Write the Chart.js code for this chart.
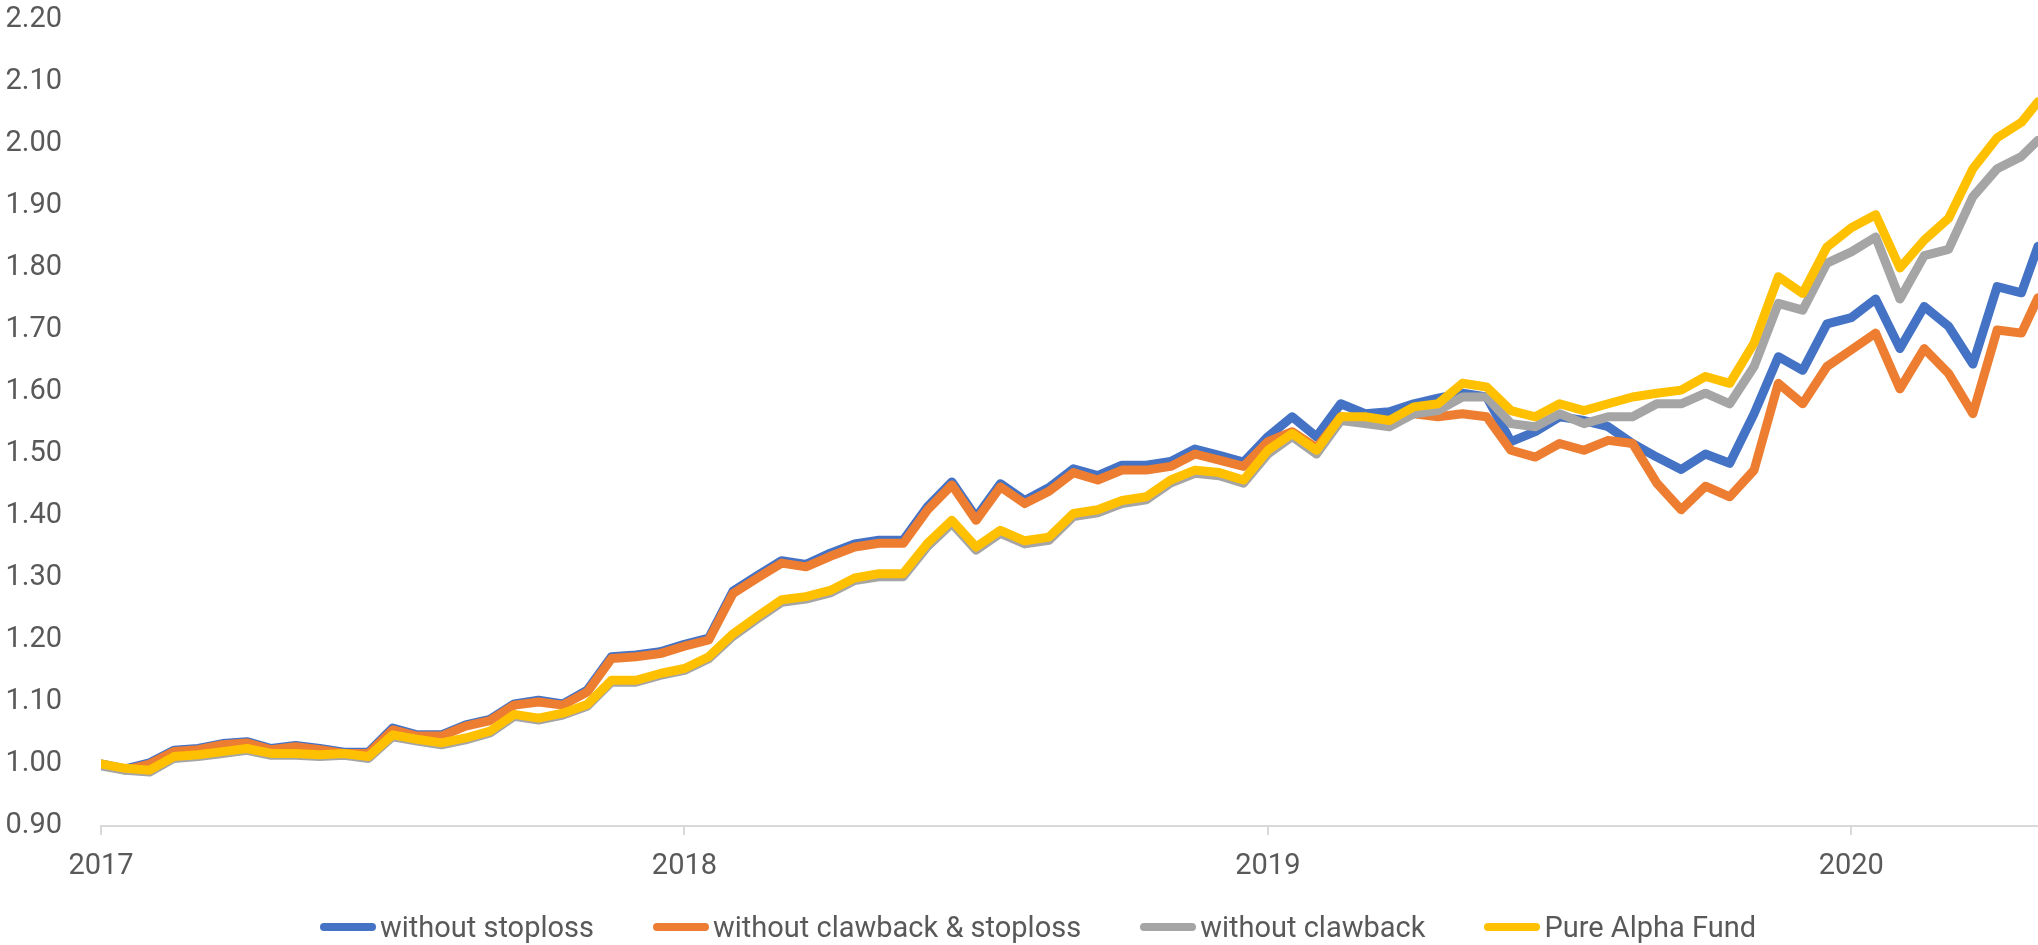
<!DOCTYPE html>
<html lang="en">
<head>
  <meta charset="UTF-8"/>
  <title>Pure Alpha Fund - backtest</title>
  <script src="https://cdn.jsdelivr.net/npm/chart.js"></script>
  <style>
    html, body { margin: 0; padding: 0; background: #fff; }
    .wrap { position: relative; width: 2038px; height: 945px; }
    .legend {
      position: absolute; left: 0; right: 0; top: 908px; height: 38px;
      display: flex; justify-content: center; align-items: center; gap: 59px;
      padding-left: 38px; box-sizing: border-box;
      font-family: Roboto, sans-serif; font-size: 29px; color: #595959;
    }
    .legend span { display: flex; align-items: center; }
    .legend i { display: inline-block; width: 56px; height: 8px; border-radius: 4px; margin-right: 4px; }
  </style>
</head>
<body>
  <div class="wrap">
    <canvas id="chart" width="2038" height="945"></canvas>
    <div class="legend">
      <span><i style="background:#4472C4"></i>without stoploss</span>
      <span><i style="background:#ED7D31"></i>without clawback &amp; stoploss</span>
      <span><i style="background:#A5A5A5"></i>without clawback</span>
      <span><i style="background:#FFC000"></i>Pure Alpha Fund</span>
    </div>
  </div>
  <script>
    // half-monthly readings, Jan 2017 .. end of Apr 2020
    const noStoploss = [1.00, 0.992, 1.002, 1.022, 1.025, 1.033, 1.036, 1.025, 1.03, 1.025,
      1.019, 1.019, 1.058, 1.047, 1.047, 1.063, 1.072, 1.097, 1.103, 1.097,
      1.119, 1.173, 1.176, 1.181, 1.193, 1.203, 1.279, 1.304, 1.328, 1.322,
      1.34, 1.355, 1.361, 1.361, 1.415, 1.455, 1.398, 1.452, 1.425, 1.446,
      1.476, 1.465, 1.482, 1.482, 1.488, 1.508, 1.498, 1.487, 1.528, 1.56,
      1.528, 1.581, 1.565, 1.568, 1.581, 1.59, 1.598, 1.592, 1.52, 1.536,
      1.56, 1.554, 1.544, 1.517, 1.495, 1.475, 1.50, 1.485, 1.565, 1.657,
      1.635, 1.71, 1.72, 1.75, 1.67, 1.738, 1.706, 1.645, 1.77, 1.76,
      1.835];
    const noClawNoStop = [1.00, 0.99, 1.00, 1.02, 1.023, 1.031, 1.034, 1.023, 1.028, 1.023,
      1.017, 1.017, 1.055, 1.045, 1.045, 1.061, 1.07, 1.095, 1.10, 1.095,
      1.116, 1.17, 1.173, 1.178, 1.19, 1.20, 1.275, 1.30, 1.324, 1.318,
      1.335, 1.35, 1.356, 1.356, 1.41, 1.45, 1.393, 1.447, 1.42, 1.44,
      1.47, 1.458, 1.474, 1.474, 1.48, 1.50, 1.49, 1.48, 1.52, 1.536,
      1.51, 1.56, 1.554, 1.549, 1.565, 1.56, 1.565, 1.56, 1.506, 1.495,
      1.517, 1.506, 1.522, 1.517, 1.453, 1.41, 1.448, 1.431, 1.474, 1.614,
      1.581, 1.641, 1.668, 1.695, 1.605, 1.67, 1.63, 1.565, 1.70, 1.695,
      1.752];
    const noClawback = [0.997, 0.99, 0.987, 1.009, 1.012, 1.017, 1.022, 1.014, 1.014, 1.012,
      1.014, 1.009, 1.044, 1.037, 1.031, 1.039, 1.05, 1.077, 1.071, 1.079,
      1.093, 1.132, 1.132, 1.143, 1.151, 1.17, 1.206, 1.234, 1.261, 1.266,
      1.276, 1.296, 1.302, 1.302, 1.351, 1.388, 1.345, 1.372, 1.355, 1.361,
      1.399, 1.405, 1.42, 1.426, 1.453, 1.469, 1.465, 1.453, 1.50, 1.528,
      1.50, 1.554, 1.549, 1.544, 1.565, 1.57, 1.592, 1.592, 1.549, 1.544,
      1.565, 1.549, 1.56, 1.56, 1.581, 1.581, 1.598, 1.581, 1.641, 1.743,
      1.732, 1.808, 1.826, 1.85, 1.75, 1.82, 1.83, 1.915, 1.96, 1.98,
      2.006];
    const pureAlpha = [1.00, 0.993, 0.99, 1.012, 1.015, 1.02, 1.025, 1.017, 1.017, 1.015,
      1.017, 1.012, 1.047, 1.04, 1.034, 1.042, 1.053, 1.08, 1.074, 1.082,
      1.096, 1.135, 1.135, 1.146, 1.154, 1.173, 1.21, 1.238, 1.265, 1.27,
      1.28, 1.30, 1.307, 1.307, 1.356, 1.393, 1.35, 1.377, 1.36, 1.366,
      1.404, 1.41, 1.425, 1.431, 1.458, 1.474, 1.47, 1.458, 1.506, 1.533,
      1.506, 1.56, 1.56, 1.554, 1.576, 1.581, 1.614, 1.608, 1.57, 1.56,
      1.581, 1.57, 1.581, 1.592, 1.598, 1.603, 1.625, 1.614, 1.679, 1.786,
      1.759, 1.834, 1.865, 1.886, 1.80, 1.845, 1.88, 1.96, 2.01, 2.035,
      2.068];
    const yearTicks = [2017, 2018, 2019, 2020];
    const lastDate = 2020.32;

    // x position of every reading in decimal years (half-month steps)
    const xYears = pureAlpha.map((_, i) => i < pureAlpha.length - 1 ? 2017 + i / 24 : lastDate);
    const toPts = arr => arr.map((v, i) => ({ x: xYears[i], y: v }));

    const FONT = "Roboto, sans-serif";
    const line = (label, data, color, order) => ({
      label, data: toPts(data), borderColor: color, backgroundColor: color,
      borderWidth: 9, pointRadius: 0, tension: 0, order,
      borderJoinStyle: 'round', borderCapStyle: 'round'
    });

    new Chart(document.getElementById('chart'), {
      type: 'line',
      data: {
        datasets: [
          line('without stoploss', noStoploss, '#4472C4', 3),
          line('without clawback & stoploss', noClawNoStop, '#ED7D31', 2),
          line('without clawback', noClawback, '#A5A5A5', 1),
          line('Pure Alpha Fund', pureAlpha, '#FFC000', 0)
        ]
      },
      options: {
        responsive: false,
        animation: false,
        layout: { padding: { top: 20, right: 0, bottom: 49, left: 0 } },
        plugins: { legend: { display: false }, tooltip: { enabled: false } },
        scales: {
          x: {
            type: 'linear', min: 2017, max: lastDate,
            afterBuildTicks: s => { s.ticks = yearTicks.map(v => ({ value: v })); },
            afterFit: s => { s.height = 70; s.paddingLeft = 0; s.paddingRight = 0; },
            grid: { display: true, drawOnChartArea: false, tickLength: 9, color: '#d9d9d9', lineWidth: 2 },
            border: { display: true, color: '#d9d9d9', width: 2 },
            ticks: { font: { family: FONT, size: 29 }, color: '#595959', padding: 14, maxRotation: 0,
              callback: v => String(v) }
          },
          y: {
            min: 0.9, max: 2.2,
            afterFit: s => { s.width = 101; s.paddingTop = 0; s.paddingBottom = 0; },
            grid: { display: false },
            border: { display: false },
            ticks: { stepSize: 0.1, font: { family: FONT, size: 29 }, color: '#595959', padding: 31,
              callback: v => Number(v).toFixed(2) }
          }
        }
      }
    });
  </script>
</body>
</html>
